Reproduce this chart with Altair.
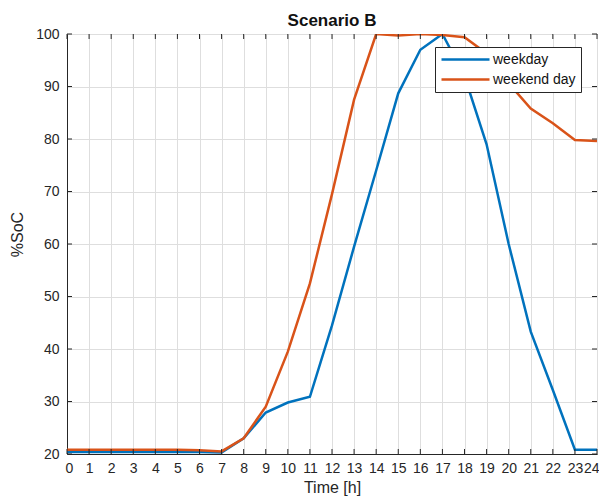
import altair as alt
import pandas as pd

hours = list(range(25))
weekday = [20.4, 20.4, 20.4, 20.4, 20.4, 20.4, 20.4, 20.3, 23.0, 27.9, 29.8, 30.9,
           44.5, 59.5, 74.0, 88.7, 97.0, 100.0, 92.0, 79.0, 60.0, 43.3, 32.2, 20.8, 20.8]
weekend = [20.8, 20.8, 20.8, 20.8, 20.8, 20.8, 20.7, 20.5, 23.0, 29.0, 39.5, 52.5,
           69.5, 87.5, 100.0, 99.7, 100.0, 99.8, 99.4, 96.3, 90.6, 85.8, 83.0, 79.8, 79.6]
series_names = ["weekday", "weekend day"]
series_colors = ["#0072BD", "#D95319"]
x_ticks = list(range(0, 25))
y_ticks = list(range(20, 101, 10))

W, H = 530, 420
FONT = "Liberation Sans"
AX = "#262626"

df = pd.DataFrame({
    "t": hours * 2,
    "v": weekday + weekend,
    "s": [series_names[0]] * len(hours) + [series_names[1]] * len(hours),
    "o": [0] * len(hours) + [1] * len(hours),
})

xs = alt.Scale(domain=[0, 24], nice=False)
ys = alt.Scale(domain=[20, 100], nice=False)
xax = alt.Axis(values=x_ticks, title="Time [h]", tickSize=0, labelPadding=7,
               titlePadding=4, labelFlush=True, labelFlushOffset=2,
               labelOverlap=False, grid=True)
yax = alt.Axis(values=y_ticks, title="%SoC", tickSize=0, labelPadding=8,
               titlePadding=10, titleY=200, labelOverlap=False, grid=True)

lines = alt.Chart(df).mark_line(strokeWidth=2.5, clip=True).encode(
    x=alt.X("t:Q", scale=xs, axis=xax),
    y=alt.Y("v:Q", scale=ys, axis=yax),
    color=alt.Color("s:N", scale=alt.Scale(domain=series_names, range=series_colors),
                    legend=alt.Legend(
                        title=None, orient="none", legendX=368, legendY=13,
                        symbolType="M-1,0H7", symbolSize=144, symbolStrokeWidth=2.5,
                        labelFontSize=14, labelFont=FONT, labelColor="#111",
                        labelOffset=38, padding=5, rowPadding=5,
                        strokeColor=AX, fillColor="white", cornerRadius=0)),
    order="o:Q",
)

xt = pd.DataFrame({"t": x_ticks})
yt = pd.DataFrame({"v": y_ticks})
tb = alt.Chart(xt).mark_rule(color=AX, strokeWidth=1).encode(
    x=alt.X("t:Q", scale=xs, axis=xax), y=alt.value(H), y2=alt.value(H - 5))
tt = alt.Chart(xt).mark_rule(color=AX, strokeWidth=1).encode(
    x=alt.X("t:Q", scale=xs, axis=xax), y=alt.value(0), y2=alt.value(5))
tl = alt.Chart(yt).mark_rule(color=AX, strokeWidth=1).encode(
    y=alt.Y("v:Q", scale=ys, axis=yax), x=alt.value(0), x2=alt.value(5))
tr = alt.Chart(yt).mark_rule(color=AX, strokeWidth=1).encode(
    y=alt.Y("v:Q", scale=ys, axis=yax), x=alt.value(W), x2=alt.value(W - 5))

chart = alt.layer(lines, tb, tt, tl, tr).properties(
    width=W, height=H,
    title=alt.TitleParams("Scenario B", fontSize=17, fontWeight="bold", font=FONT,
                          color="#111", anchor="middle", offset=-3),
    autosize=alt.AutoSizeParams(type="none"),
    padding={"left": 59, "top": 26, "right": 2, "bottom": 42},
    background="white",
).configure_view(
    stroke=AX, strokeWidth=1
).configure_axis(
    labelFont=FONT, titleFont=FONT, labelFontSize=14, titleFontSize=16,
    labelColor=AX, titleColor=AX, titleFontWeight="normal",
    domainColor=AX, gridColor="#dedede", gridWidth=1,
)

chart.save("out.html", embed_options={"renderer": "svg", "actions": False})
